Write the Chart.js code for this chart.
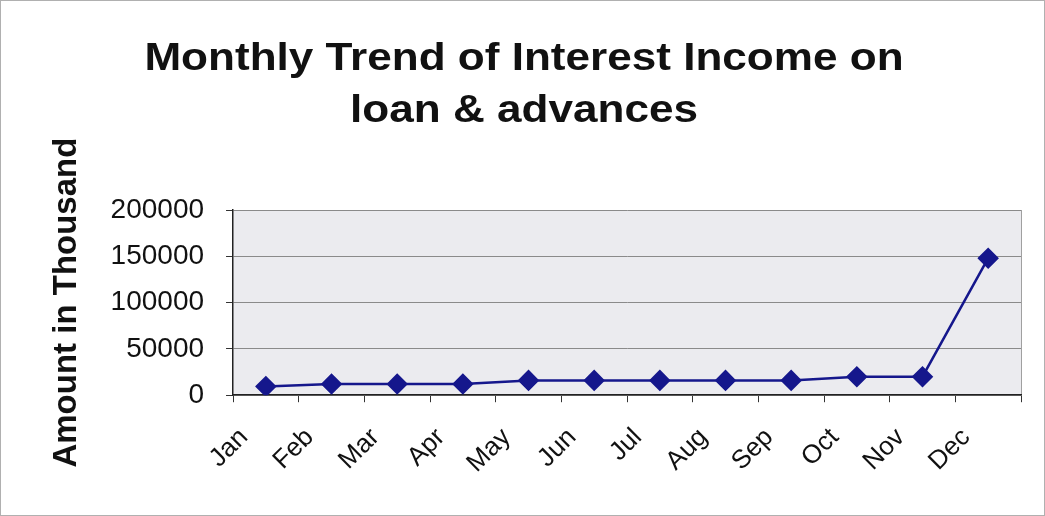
<!DOCTYPE html>
<html>
<head>
<meta charset="utf-8">
<script src="https://cdn.jsdelivr.net/npm/chart.js@4/dist/chart.umd.min.js"></script>
<style>
  html, body { margin: 0; padding: 0; background: #ffffff; }
  #marco { width: 1045px; height: 516px; box-sizing: border-box; border: 1px solid #b0b0b0; }
</style>
</head>
<body>
<div id="marco"><canvas id="grafico" width="1043" height="514"></canvas></div>
<script>
// Datos (montos en miles)
const meses = ['Jan', 'Feb', 'Mar', 'Apr', 'May', 'Jun', 'Jul', 'Aug', 'Sep', 'Oct', 'Nov', 'Dec'];
const ingresoIntereses = [9500, 12000, 12000, 12000, 16000, 16000, 16000, 16000, 16000, 20000, 20000, 148000];
const marcasEjeY = [0, 50000, 100000, 150000, 200000];

const tituloLineas = ['Monthly Trend of Interest Income on', 'loan & advances'];
const tituloEjeY = 'Amount in Thousand';

const fuente = "Arial, 'Liberation Sans', sans-serif";
const azul = '#15178c';

// fondo gris del área de trazado y borde derecho
const fondoArea = {
  id: 'fondoArea',
  beforeDraw(chart) {
    const { ctx, chartArea: a } = chart;
    ctx.save();
    ctx.fillStyle = '#ebebef';
    ctx.fillRect(a.left, a.top, a.right - a.left, a.bottom - a.top);
    ctx.strokeStyle = '#a0a0a0';
    ctx.lineWidth = 1;
    ctx.beginPath();
    ctx.moveTo(a.right + 0.5, a.top);
    ctx.lineTo(a.right + 0.5, a.bottom);
    ctx.stroke();
    ctx.restore();
  }
};

// título en negrita, algo ensanchado como en el original escaneado
const tituloAncho = {
  id: 'tituloAncho',
  afterDraw(chart) {
    const { ctx } = chart;
    ctx.save();
    ctx.fillStyle = '#111111';
    ctx.font = `bold 38px ${fuente}`;
    ctx.textAlign = 'center';
    ctx.textBaseline = 'alphabetic';
    const cx = 523;
    tituloLineas.forEach((linea, i) => {
      ctx.save();
      ctx.translate(cx, 69 + i * 52);
      ctx.scale(1.16, 1);
      ctx.fillText(linea, 0, 0);
      ctx.restore();
    });
    ctx.restore();
  }
};

new Chart(document.getElementById('grafico'), {
  type: 'line',
  data: {
    labels: meses,
    datasets: [{
      data: ingresoIntereses,
      borderColor: azul,
      backgroundColor: azul,
      borderWidth: 2.5,
      pointStyle: 'rectRot',
      pointRadius: 9,
      pointHoverRadius: 9,
      tension: 0,
    }],
  },
  options: {
    responsive: false,
    animation: false,
    layout: { padding: { left: 46, right: 23, top: 209, bottom: 16 } },
    plugins: {
      legend: { display: false },
      tooltip: { enabled: false },
      title: { display: false },
    },
    scales: {
      x: {
        offset: true,
        grid: {
          offset: true,
          drawOnChartArea: false,
          drawTicks: true,
          tickLength: 7,
          color: '#333333',
        },
        border: { color: '#222222', width: 1.5 },
        ticks: {
          color: '#111111',
          font: { family: fuente, size: 26 },
          maxRotation: 45,
          minRotation: 45,
          padding: 20,
          labelOffset: -22,
        },
      },
      y: {
        min: 0,
        max: 200000,
        afterBuildTicks(escala) {
          escala.ticks = marcasEjeY.map(v => ({ value: v }));
        },
        grid: {
          color: '#8a8a8a',
          tickLength: 7,
          tickColor: '#333333',
        },
        border: { color: '#222222', width: 1.5 },
        ticks: {
          color: '#111111',
          font: { family: fuente, size: 28 },
          padding: 22,
          callback: v => String(v),
        },
        title: {
          display: true,
          text: tituloEjeY,
          color: '#111111',
          font: { family: fuente, size: 33, weight: 'bold' },
          padding: { top: 0, bottom: 2 },
        },
      },
    },
  },
  plugins: [fondoArea, tituloAncho],
});
</script>
</body>
</html>
